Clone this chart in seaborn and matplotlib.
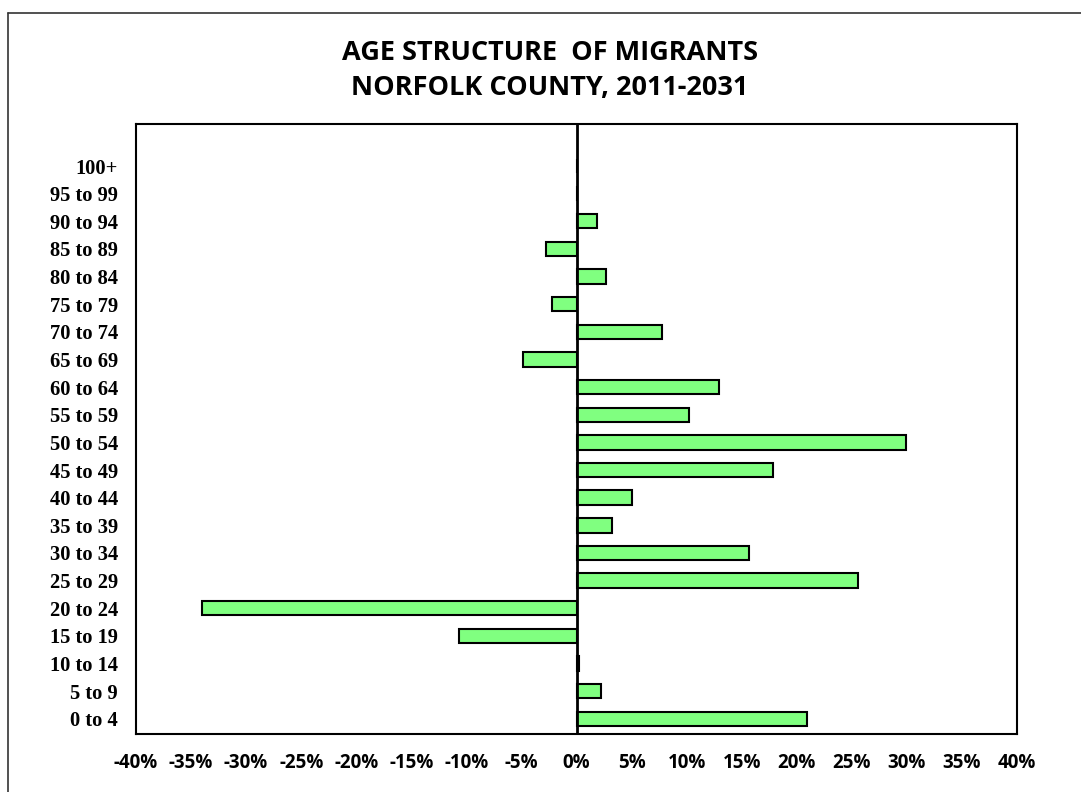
import pandas as pd
import seaborn as sns
import matplotlib.pyplot as plt
from matplotlib.lines import Line2D

# age groups, top of the chart first
age_groups = ["100+", "95 to 99", "90 to 94", "85 to 89", "80 to 84", "75 to 79",
              "70 to 74", "65 to 69", "60 to 64", "55 to 59", "50 to 54", "45 to 49",
              "40 to 44", "35 to 39", "30 to 34", "25 to 29", "20 to 24", "15 to 19",
              "10 to 14", "5 to 9", "0 to 4"]
# share of migrants (%)
share = [0.08, 0.08, 1.9, -2.8, 2.7, -2.2,
         7.8, -4.9, 12.9, 10.25, 29.9, 17.8,
         5.0, 3.2, 15.7, 25.6, -34.0, -10.7,
         0.25, 2.2, 20.9]
x_ticks = list(range(-40, 45, 5))

df = pd.DataFrame({"age": age_groups, "share": share})

sns.set_style("white")
plt.rcParams["text.color"] = "black"
plt.rcParams["xtick.color"] = "black"
plt.rcParams["ytick.color"] = "black"

fig = plt.figure(figsize=(10.81, 7.92), dpi=100)
ax = fig.add_axes([136 / 1081, 1 - 734 / 792, 881 / 1081, 610 / 792])

sns.barplot(data=df, x="share", y="age", order=age_groups, orient="h",
            color="#80FF80", saturation=1, width=0.52,
            edgecolor="black", linewidth=1.5, ax=ax)

ax.axvline(0, color="black", linewidth=2, zorder=3)
ax.set_xlim(-40, 40)
ax.set_ylim(20.55, -1.52)
ax.set_xticks(x_ticks)
ax.set_xticklabels([f"{t}%" for t in x_ticks], fontfamily="Open Sans",
                   fontweight="bold", fontsize=13.5, color="black")
for lab in ax.get_yticklabels():
    lab.set_fontfamily("Liberation Serif")
    lab.set_fontweight("bold")
    lab.set_fontsize(14.8)
    lab.set_color("black")
ax.tick_params(axis="x", length=0, pad=14)
ax.tick_params(axis="y", length=0, pad=13)
ax.set_xlabel("")
ax.set_ylabel("")
for s in ax.spines.values():
    s.set_color("black")
    s.set_linewidth(1.5)

title_font = dict(ha="center", va="center", fontfamily="Open Sans",
                  fontweight="bold", fontsize=19.5, color="black")
fig.text(550 / 1081, 1 - 53 / 792, "AGE STRUCTURE  OF MIGRANTS", **title_font)
fig.text(550 / 1081, 1 - 88 / 792, "NORFOLK COUNTY, 2011-2031", **title_font)

# outer frame (only left and top edges show)
fig.add_artist(Line2D([8 / 1081, 8 / 1081], [0, 1 - 13 / 792], color="#333333",
                      linewidth=1.2, transform=fig.transFigure))
fig.add_artist(Line2D([8 / 1081, 1], [1 - 13 / 792, 1 - 13 / 792], color="#333333",
                      linewidth=1.2, transform=fig.transFigure))

fig.savefig("out.png", dpi=100)
